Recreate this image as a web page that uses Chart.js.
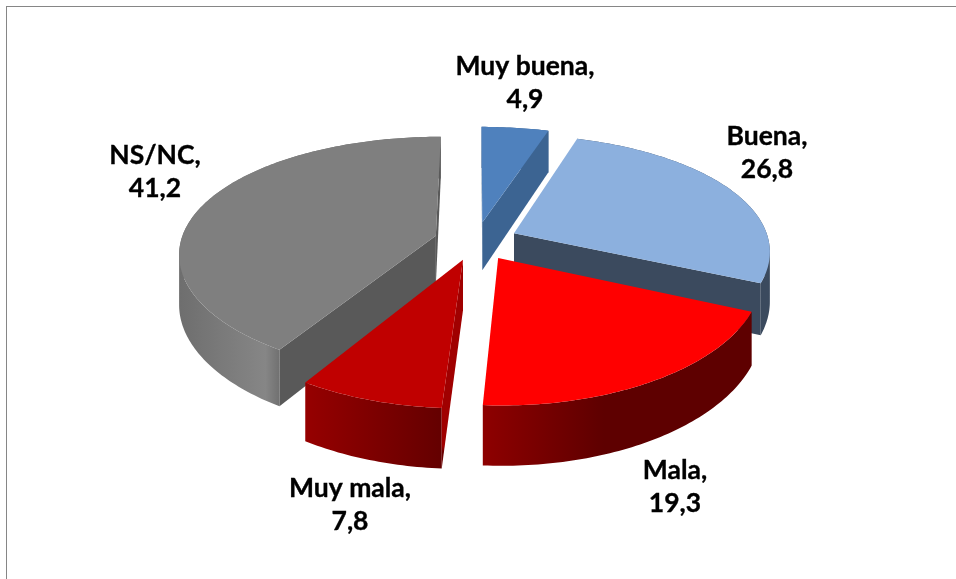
<!DOCTYPE html>
<html><head><meta charset="utf-8">
<script src="https://cdn.jsdelivr.net/npm/chart.js@4/dist/chart.umd.min.js"></script>
<style>html,body{margin:0;padding:0;background:#fff;overflow:hidden}#w{position:absolute;left:6px;top:6px;width:950px;height:573px;border-top:1px solid #868686;border-left:1px solid #868686;box-sizing:border-box}canvas{position:absolute;left:0;top:0}</style>
</head><body><div id="w"></div><canvas id="c" width="956" height="579"></canvas>
<script>
const categories = ['Muy buena','Buena','Mala','Muy mala','NS/NC'];
const values = [4.9,26.8,19.3,7.8,41.2];
const topColors = ['#4F81BD','#8CB0DE','#FF0000','#C00000','#7F7F7F'];
const faceTop = ['#3C6492','#3B4A5E','#7A0000','#A00000','#595959'];
const faceBottom = ['#3C6492','#3B4A5E','#7A0000','#6A0000','#595959'];
const rimStops = [[[0,'#3C6492'],[1,'#3C6492']],[[0,'#3B4A5E'],[1,'#3B4A5E']],[[0,'#8E0000'],[.45,'#5E0000'],[1,'#5E0000']],[[0,'#960000'],[1,'#640000']],[[0,'#6E6E6E'],[.33,'#868686'],[.385,'#707070'],[1,'#707070']]];
const labelPos = [[525,83],[767,153],[675,487],[350,505],[155,172]];
const paintOrder = [0,4,1,3,2];
const CX=476,CY=241,RW=255,RQ=117,KY=0.165,KX=0.14,H=49,EXPL=42;
function fmt(v){return String(v).replace('.',',');}
const pie3d={id:'pie3d',
 beforeDatasetDraw(chart){
  const ctx=chart.ctx, arcs=chart.getDatasetMeta(0).data;
  function proj(x,y,z){return [CX+x/(1-KX*y/RW),CY+(y*RQ/RW+z)/(1-KY*y/RW)];}
  const area=q=>{let A=0;q.forEach((p,j)=>{const n=q[(j+1)%q.length];A+=p[0]*n[1]-n[0]*p[1];});return A;};
  const sub=pts=>{pts.forEach((p,j)=>j?ctx.lineTo(p[0],p[1]):ctx.moveTo(p[0],p[1]));ctx.closePath();};
  for(const i of paintOrder){
   const a=arcs[i],s=a.startAngle,e=a.endAngle,m=(s+e)/2;
   const ox=Math.cos(m)*EXPL,oy=Math.sin(m)*EXPL;
   const pt=(t,z)=>proj(ox+RW*Math.cos(t),oy+RW*Math.sin(t),z);
   const apex=z=>proj(ox,oy,z);
   const N=Math.max(16,Math.ceil((e-s)*60));
   const ring=z=>{const r=[];for(let j=0;j<=N;j++)r.push(pt(s+(e-s)*j/N,z));return r;};
   const top=ring(0), bot=ring(H);
   const xs=top.map(p=>p[0]);
   const g=ctx.createLinearGradient(Math.min(...xs),0,Math.max(...xs),0);
   rimStops[i].forEach(st=>g.addColorStop(st[0],st[1]));
   ctx.beginPath();
   for(let j=0;j<N;j++){
    let q=[top[j],top[j+1],bot[j+1],bot[j]];
    if(area(q)<0)q=q.reverse();
    sub(q);
   }
   ctx.fillStyle=g;ctx.fill();
   for(const t of [s,e]){
    const q=[apex(0),pt(t,0),pt(t,H),apex(H)];
    const vis=(t===s)?area(q)<0:area(q)>0;
    if(vis){
     const f=ctx.createLinearGradient(0,pt(t,0)[1]-20,0,pt(t,H)[1]);
     f.addColorStop(0,faceTop[i]);f.addColorStop(.72,faceTop[i]);f.addColorStop(.8,faceBottom[i]);f.addColorStop(1,faceBottom[i]);
     ctx.beginPath();sub(q);ctx.fillStyle=f;ctx.fill();
    }
   }
   ctx.beginPath();sub([apex(0)].concat(top));ctx.fillStyle=topColors[i];ctx.fill();
  }
  ctx.save();ctx.font='bold 26.5px Lato';ctx.fillStyle='#000';ctx.strokeStyle='#000';ctx.lineWidth=.35;ctx.textAlign='center';ctx.textBaseline='middle';
  categories.forEach((c,i)=>{const l=labelPos[i];const a=c+',',b=fmt(values[i]);
   ctx.fillText(a,l[0],l[1]-16.5);ctx.strokeText(a,l[0],l[1]-16.5);
   ctx.fillText(b,l[0],l[1]+16.5);ctx.strokeText(b,l[0],l[1]+16.5);});
  ctx.restore();
  return false;
 }};
new Chart(document.getElementById('c'),{type:'pie',data:{labels:categories,datasets:[{data:values,backgroundColor:topColors}]},
 options:{responsive:false,animation:false,plugins:{legend:{display:false},tooltip:{enabled:false}}},plugins:[pie3d]});
</script></body></html>
